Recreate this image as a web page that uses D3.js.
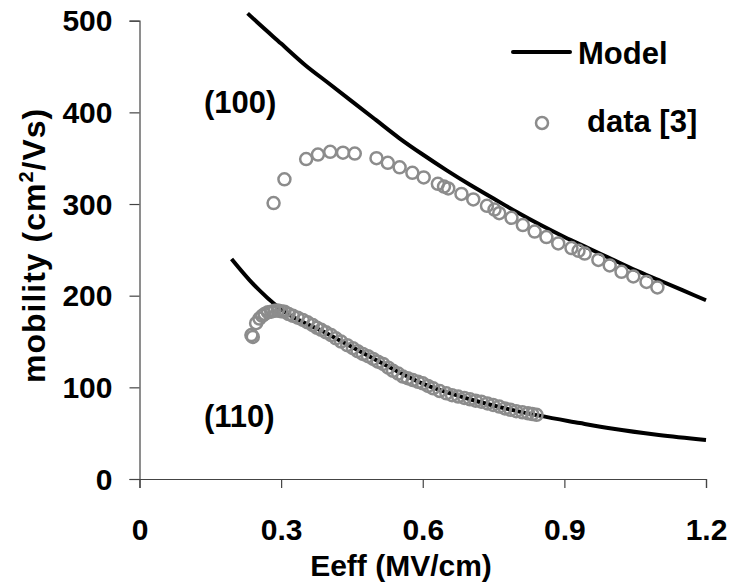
<!DOCTYPE html>
<html>
<head>
<meta charset="utf-8">
<script src="https://cdn.jsdelivr.net/npm/d3@7"></script>
<style>
  html, body { margin: 0; padding: 0; background: #fff; }
  svg text { font-family: "Liberation Sans", Arial, Helvetica, sans-serif; font-weight: bold; fill: #000; }
</style>
</head>
<body>
<svg id="chart" width="730" height="588"></svg>
<script>
// Axis ticks
const xTicks = [0, 0.3, 0.6, 0.9, 1.2];
const yTicks = [0, 100, 200, 300, 400, 500];

// Model curves (Eeff in MV/cm, mobility in cm^2/Vs)
const model100E  = [0.229, 0.25, 0.3, 0.35, 0.4, 0.45, 0.5, 0.55, 0.6, 0.65, 0.7, 0.75,
                    0.8, 0.85, 0.9, 0.95, 1.0, 1.05, 1.1, 1.15, 1.2];
const model100Mu = [508, 498, 475, 452, 432, 412, 392, 372, 354, 337, 321, 306,
                    291, 277, 264, 252, 240, 228, 217, 206, 195];

const model110E  = [0.195, 0.233, 0.3, 0.4, 0.5, 0.6, 0.7, 0.8, 0.933, 1.0, 1.1, 1.2];
const model110Mu = [240, 217, 185, 158, 130, 104, 87, 74, 61, 55, 48, 42.6];

// Measured data [3], (100) surface
const data100E  = [0.284, 0.307, 0.353, 0.378, 0.404, 0.431, 0.456, 0.502, 0.526, 0.551, 0.578, 0.602,
                   0.632, 0.645, 0.654, 0.682, 0.707, 0.736, 0.752, 0.762, 0.788, 0.812, 0.837, 0.862,
                   0.887, 0.915, 0.93, 0.943, 0.972, 0.996, 1.021, 1.046, 1.074, 1.097];
const data100Mu = [301, 327, 349, 354, 357, 356, 355, 350, 345, 340, 334, 329,
                   322, 319, 317, 311, 305, 298, 294, 290, 285, 277, 270, 264,
                   257, 252, 249, 246, 239, 233, 226, 221, 215, 209];

// Measured data [3], (110) surface
const data110E  = [0.237, 0.240, 0.247, 0.254, 0.26, 0.265, 0.272, 0.279, 0.286, 0.293, 0.3, 0.307,
                   0.316, 0.325, 0.335, 0.346, 0.356, 0.367, 0.376, 0.385, 0.395, 0.406, 0.416, 0.427,
                   0.44, 0.452, 0.462, 0.473, 0.484, 0.495, 0.505, 0.516, 0.527, 0.537, 0.548, 0.558,
                   0.568, 0.579, 0.59, 0.6, 0.611, 0.622, 0.636, 0.65, 0.662, 0.675, 0.688, 0.7,
                   0.712, 0.724, 0.737, 0.749, 0.762, 0.774, 0.786, 0.798, 0.811, 0.823, 0.832, 0.841];
const data110Mu = [157, 155, 170, 175, 178, 180, 182, 182.6, 183.5, 183.7, 183, 182.6,
                   180, 178, 176, 173.6, 171, 168, 165, 162.7, 160, 157, 153.5, 150,
                   146, 142.7, 139.5, 136.5, 134, 131, 128, 125.5, 121.5, 118, 115, 111.7,
                   110, 108, 106, 104.4, 101.5, 99, 96, 93.5, 91.5, 90, 88.5, 87,
                   85.5, 84.4, 82.5, 80.8, 79, 77, 75.5, 74, 72.8, 71.6, 70.8, 70];

const svg = d3.select("#chart");

const x = d3.scaleLinear().domain([0, 1.2]).range([139.5, 706]);
const y = d3.scaleLinear().domain([0, 500]).range([479, 20.7]);

const axisColor = "#444";

// Y axis
const yAxis = svg.append("g")
  .attr("transform", `translate(${x(0)},0)`)
  .call(d3.axisLeft(y).tickValues(yTicks).tickSize(10).tickPadding(0).tickFormat(d3.format("d")));
yAxis.select(".domain").attr("stroke", axisColor).attr("stroke-width", 1.2);
yAxis.selectAll(".tick line").attr("stroke", axisColor).attr("stroke-width", 1.2);
yAxis.selectAll(".tick text")
  .attr("x", -27).attr("dy", "0.34em")
  .style("font-size", "30px");

// X axis
const xAxis = svg.append("g")
  .attr("transform", `translate(0,${y(0)})`)
  .call(d3.axisBottom(x).tickValues(xTicks).tickSize(9).tickPadding(0)
        .tickFormat(d => d === 0 ? "0" : d3.format(".1f")(d)));
xAxis.select(".domain").attr("stroke", axisColor).attr("stroke-width", 1.2);
xAxis.selectAll(".tick line").attr("stroke", axisColor).attr("stroke-width", 1.2);
xAxis.selectAll(".tick text")
  .attr("y", 61).attr("dy", 0)
  .style("font-size", "30px");

// Axis titles
svg.append("text")
  .attr("x", 401).attr("y", 576)
  .attr("text-anchor", "middle")
  .style("font-size", "30px")
  .text("Eeff (MV/cm)");

const yTitle = svg.append("text")
  .attr("transform", "translate(45,383) rotate(-90)")
  .attr("text-anchor", "start")
  .style("font-size", "32px")
  .style("letter-spacing", "1px");
yTitle.append("tspan").text("mobility (cm");
yTitle.append("tspan").attr("dy", -12).style("font-size", "20px").text("2");
yTitle.append("tspan").attr("dy", 12).text("/Vs)");

// Model lines
const line = d3.line()
  .x(d => x(d[0]))
  .y(d => y(d[1]))
  .curve(d3.curveMonotoneX);

const model100 = model100E.map((e, i) => [e, model100Mu[i]]);
const model110 = model110E.map((e, i) => [e, model110Mu[i]]);

svg.append("path").datum(model100)
  .attr("d", line).attr("fill", "none").attr("stroke", "#000").attr("stroke-width", 4);
svg.append("path").datum(model110)
  .attr("d", line).attr("fill", "none").attr("stroke", "#000").attr("stroke-width", 4);

// Data markers
const data100 = data100E.map((e, i) => [e, data100Mu[i]]);
const data110 = data110E.map((e, i) => [e, data110Mu[i]]);
const markerColor = "#8c8c8c";

svg.append("g").selectAll("circle").data(data100.concat(data110)).join("circle")
  .attr("cx", d => x(d[0]))
  .attr("cy", d => y(d[1]))
  .attr("r", 6)
  .attr("fill", "none")
  .attr("stroke", markerColor)
  .attr("stroke-width", 2.5);

// Surface orientation labels
svg.append("text").attr("x", 204).attr("y", 113).style("font-size", "31px").text("(100)");
svg.append("text").attr("x", 204).attr("y", 427).style("font-size", "31px").text("(110)");

// Legend
svg.append("line")
  .attr("x1", 513).attr("x2", 570).attr("y1", 52).attr("y2", 52)
  .attr("stroke", "#000").attr("stroke-width", 4).attr("stroke-linecap", "round");
svg.append("text").attr("x", 578).attr("y", 64).style("font-size", "31px").text("Model");

svg.append("circle")
  .attr("cx", 542).attr("cy", 123).attr("r", 6)
  .attr("fill", "none").attr("stroke", markerColor).attr("stroke-width", 2.5);
svg.append("text").attr("x", 587).attr("y", 132).style("font-size", "31px").text("data [3]");
</script>
</body>
</html>
